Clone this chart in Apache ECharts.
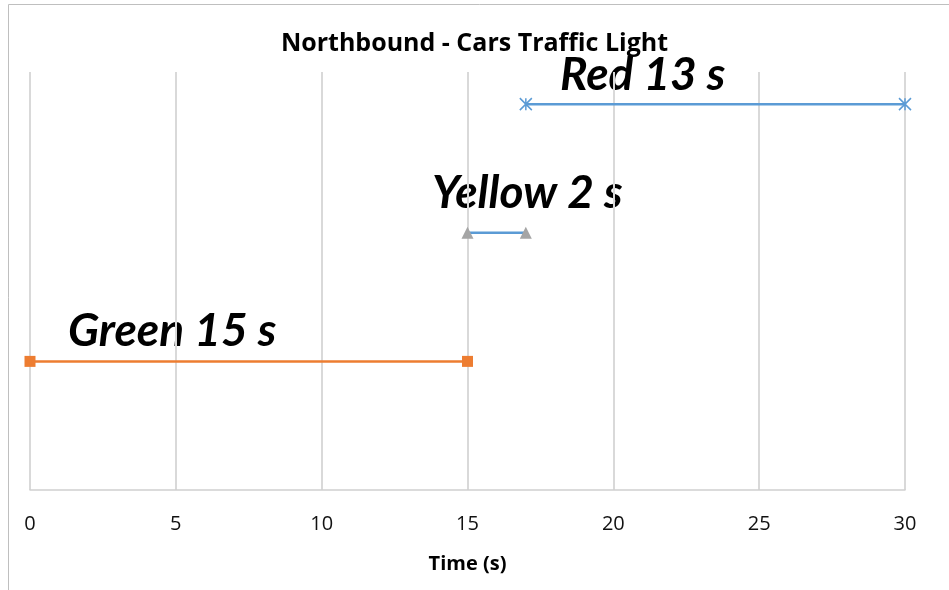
<!DOCTYPE html>
<html>
<head>
<meta charset="utf-8">
<script src="https://cdn.jsdelivr.net/npm/echarts@6/dist/echarts.min.js"></script>
<style>
  html, body { margin: 0; padding: 0; background: #fff; }
  #main { width: 949px; height: 590px; }
</style>
</head>
<body>
<div id="main"></div>
<script>
var xTicks = [0, 5, 10, 15, 20, 25, 30];
var greenTime = [0, 15];
var yellowTime = [15, 17];
var redTime = [17, 30];
var greenLevel = 1;
var yellowLevel = 2;
var redLevel = 3;
var notes = ['Green 15 s', 'Yellow 2 s', 'Red 13 s'];

function pts(times, level) {
    return times.map(function (t) { return [t, level]; });
}

var chartDom = document.getElementById('main');
var myChart = echarts.init(chartDom, null, { renderer: 'canvas' });

var handFont = {
    fontFamily: 'Lato',
    fontStyle: 'italic',
    fontWeight: 'bold',
    fontSize: 46,
    fill: '#000'
};

var option = {
    animation: false,
    backgroundColor: '#fff',
    title: {
        text: 'Northbound - Cars Traffic Light',
        left: 'center',
        top: 26,
        textStyle: { fontFamily: 'Open Sans', fontWeight: 'bold', fontSize: 25, color: '#000' }
    },
    grid: { left: 30, right: 44, top: 72, bottom: 100 },
    xAxis: {
        type: 'value',
        min: 0,
        max: 30,
        interval: 5,
        name: 'Time (s)',
        nameLocation: 'middle',
        nameGap: 64,
        nameTextStyle: { fontFamily: 'Open Sans', fontWeight: 'bold', fontSize: 20, color: '#000' },
        axisLine: { lineStyle: { color: '#D0D0D0', width: 1.5 } },
        axisTick: { show: false },
        axisLabel: { margin: 24, fontFamily: 'Open Sans', fontSize: 20, color: '#111' },
        splitLine: { lineStyle: { color: '#D9D9D9', width: 2 } }
    },
    yAxis: {
        type: 'value',
        min: 0,
        max: 3.25,
        show: false
    },
    series: [
        {
            name: 'Green',
            type: 'line',
            data: pts(greenTime, greenLevel),
            symbol: 'rect',
            symbolSize: 11,
            itemStyle: { color: '#ED7D31' },
            lineStyle: { color: '#ED7D31', width: 2.5 }
        },
        {
            name: 'Yellow',
            type: 'line',
            data: pts(yellowTime, yellowLevel),
            symbol: 'triangle',
            symbolSize: 12,
            itemStyle: { color: '#A5A5A5' },
            lineStyle: { color: '#5B9BD5', width: 2.5 }
        },
        {
            name: 'Red',
            type: 'line',
            data: pts(redTime, redLevel),
            symbol: 'path://M0,0 L10,10 M10,0 L0,10 M5,0 L5,10',
            symbolSize: 12,
            itemStyle: { color: 'none', borderColor: '#5B9BD5', borderWidth: 1.5 },
            lineStyle: { color: '#5B9BD5', width: 2.5 }
        }
    ],
    graphic: [
        {
            type: 'rect',
            silent: true,
            z: -10,
            shape: { x: 8.5, y: 4.5, width: 960, height: 600 },
            style: { fill: 'none', stroke: '#BFBFBF', lineWidth: 1 }
        },
        {
            type: 'text', left: 68, top: 308,
            style: Object.assign({ text: notes[0] }, handFont)
        },
        {
            type: 'text', left: 432, top: 170,
            style: Object.assign({ text: notes[1] }, handFont)
        },
        {
            type: 'text', left: 560, top: 52,
            style: Object.assign({ text: notes[2] }, handFont)
        }
    ]
};

option && myChart.setOption(option);
</script>
</body>
</html>
